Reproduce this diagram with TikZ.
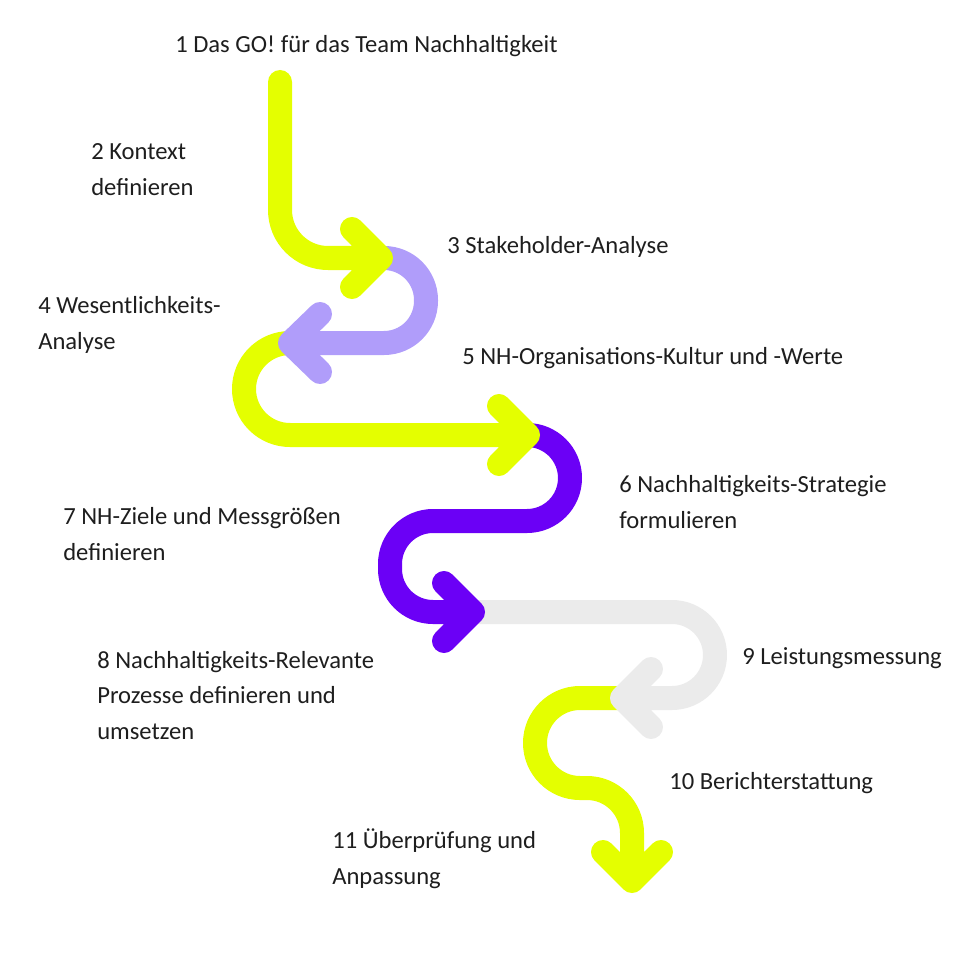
\documentclass[tikz,border=0pt]{standalone}
\usepackage{fontspec}
\setmainfont{Carlito}
\usepackage{tikz}
\definecolor{nhyellow}{HTML}{E4FF00}
\definecolor{nhlilac}{HTML}{B09DFA}
\definecolor{nhviolet}{HTML}{6B00F6}
\definecolor{nhgray}{HTML}{EBEBEB}
\definecolor{nhtext}{HTML}{1E1E1E}
\tikzset{
    % Thick band with round ends
    flowband/.style={
        draw=#1,
        line width=0.6cm,
        line cap=round,
        line join=round,
        rounded corners=1.075cm
    },
    flowband/.default=nhyellow,
    % Step label (placed at the baseline of its last line)
    steplabel/.style={
        anchor=base west,
        align=left,
        inner sep=0pt,
        text=nhtext,
        font=\fontsize{17.5}{24.9}\selectfont
    }
}

\begin{document}
\begin{tikzpicture}[x=0.025cm, y=-0.025cm]
    \useasboundingbox (0,0) rectangle (960,960);

    % Bands, last one first, so that each head lies on the next band
    % 10 -> 11
    \draw[flowband=nhyellow, rounded corners=1.125cm] (622,698) -- (535,698) -- (535,788) -- (632,788) -- (632,881)
        [sharp corners] (603,852) -- (632,881) -- (661,852);

    % 9 -> 10
    \draw[flowband=nhgray] (473,612) -- (715,612) -- (715,698) -- (622,698)
        [sharp corners] (651,669) -- (622,698) -- (651,727);

    % 5 -> 8, S-bend
    \draw[flowband=nhviolet] (528,435) -- (570,435) -- (570,521) -- (390,521) -- (390,612) -- (473,612)
        [sharp corners] (444,583) -- (473,612) -- (444,641);

    % 4 -> 5
    \draw[flowband=nhyellow, rounded corners=1.15cm] (300,343) -- (244,343) -- (244,435) -- (528,435)
        [sharp corners] (499,406) -- (528,435) -- (499,464);

    % 3 -> 4
    \draw[flowband=nhlilac, rounded corners=1.05cm] (381,258) -- (426,258) -- (426,343) -- (290,343)
        [sharp corners] (320,314) -- (290,343) -- (320,372);

    % 1 -> 3
    \draw[flowband=nhyellow, rounded corners=1.2cm] (280,82) -- (280,258) -- (381,258)
        [sharp corners] (352,229) -- (381,258) -- (352,287);

    % Step labels
    \node[steplabel] (go) at (175,52) {1 Das GO! für das Team Nachhaltigkeit};
    \node[steplabel] (kontext) at (91,195) {2 Kontext\\definieren};
    \node[steplabel] (stakeholder) at (447,253) {3 Stakeholder-Analyse};
    \node[steplabel] (wesentlich) at (38,349) {4 Wesentlichkeits-\\Analyse};
    \node[steplabel] (kultur) at (462,364) {5 NH-Organisations-Kultur und -Werte};
    \node[steplabel] (strategie) at (619,528) {6 Nachhaltigkeits-Strategie\\formulieren};
    \node[steplabel] (ziele) at (63,560) {7 NH-Ziele und Messgrößen\\definieren};
    \node[steplabel] (prozesse) at (97,739) {8 Nachhaltigkeits-Relevante\\Prozesse definieren und\\umsetzen};
    \node[steplabel] (leistung) at (742,664) {9 Leistungsmessung};
    \node[steplabel] (bericht) at (669,789) {10 Berichterstattung};
    \node[steplabel] (anpassung) at (332,884) {11 Überprüfung und\\Anpassung};

\end{tikzpicture}
\end{document}
